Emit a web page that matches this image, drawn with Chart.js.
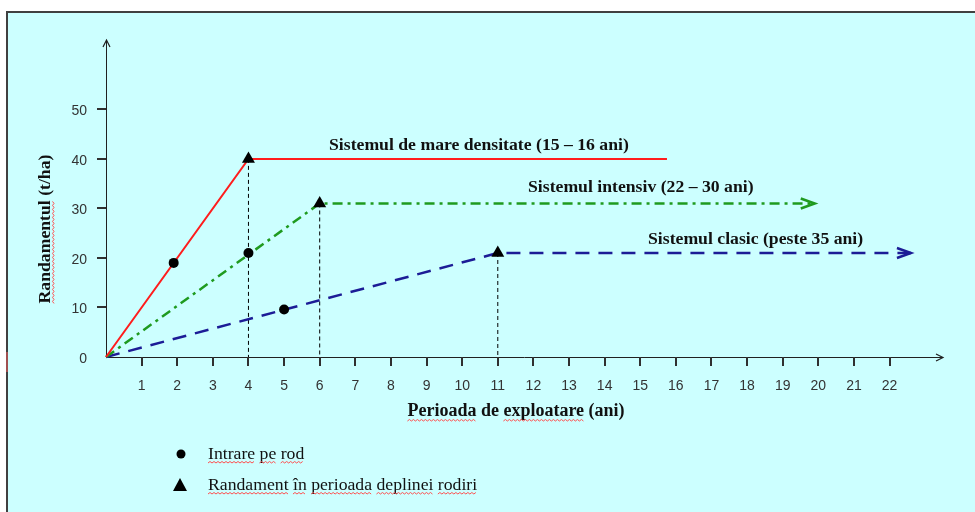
<!DOCTYPE html>
<html>
<head>
<meta charset="utf-8">
<script src="https://cdn.jsdelivr.net/npm/chart.js@4.4.1/dist/chart.umd.min.js"></script>
<style>
  body { margin: 0; background: #fff; }
  canvas { display: block; }
</style>
</head>
<body>
<canvas id="chart" width="975" height="512"></canvas>
<script>
// Tick labels
const xTicks = [1, 2, 3, 4, 5, 6, 7, 8, 9, 10, 11, 12, 13, 14, 15, 16, 17, 18, 19, 20, 21, 22];
const yTicks = [0, 10, 20, 30, 40, 50];

// Series: the three growing systems
const seriesNames = ['Sistemul de mare densitate (15 – 16 ani)', 'Sistemul intensiv (22 – 30 ani)', 'Sistemul clasic (peste 35 ani)'];
const densitateX = [0, 4, 15.75];
const densitateY = [0, 40, 40];
const intensivX = [0, 6, 19.9];
const intensivY = [0, 31, 31];
const clasicX = [0, 11, 22.6];
const clasicY = [0, 21, 21];

// Markers
const intrareX = [1.9, 4, 5];
const intrareY = [19, 21, 9.6];
const deplinX = [4, 6, 11];
const deplinY = [40, 31, 21];

const legendLabels = ['Intrare pe rod', 'Randament în perioada deplinei rodiri'];
const xTitle = 'Perioada de exploatare (ani)';
const yTitle = 'Randamentul (t/ha)';

const SERIF = '"Liberation Serif", "Times New Roman", serif';
const SANS = '"Liberation Sans", Arial, sans-serif';

function toPoints(xs, ys) {
    return xs.map((x, i) => ({ x: x, y: ys[i] }));
}

// Spell-check style wavy underline
function wavy(ctx, x1, x2, y) {
    ctx.save();
    ctx.strokeStyle = '#ff5050';
    ctx.lineWidth = 1;
    ctx.beginPath();
    let up = true;
    ctx.moveTo(x1, y);
    for (let x = x1 + 2; x <= x2; x += 2) {
        ctx.lineTo(x, up ? y - 1.5 : y);
        up = !up;
    }
    ctx.stroke();
    ctx.restore();
}

function chevron(ctx, x, y, angle, len, half, color, width) {
    ctx.save();
    ctx.translate(x, y);
    ctx.rotate(angle);
    ctx.strokeStyle = color;
    ctx.lineWidth = width;
    ctx.lineJoin = 'miter';
    ctx.beginPath();
    ctx.moveTo(-len, -half);
    ctx.lineTo(0, 0);
    ctx.lineTo(-len, half);
    ctx.stroke();
    ctx.restore();
}

const framePlugin = {
    id: 'frame',
    beforeDraw(chart) {
        const ctx = chart.ctx;
        ctx.save();
        ctx.fillStyle = '#ffffff';
        ctx.fillRect(0, 0, chart.width, chart.height);
        ctx.fillStyle = '#ccffff';
        ctx.fillRect(7, 12, chart.width - 7, chart.height - 12);
        ctx.strokeStyle = '#404040';
        ctx.lineWidth = 2;
        ctx.beginPath();
        ctx.moveTo(7, chart.height);
        ctx.lineTo(7, 12);
        ctx.lineTo(chart.width, 12);
        ctx.stroke();
        ctx.strokeStyle = '#a05050';
        ctx.beginPath();
        ctx.moveTo(7, 352);
        ctx.lineTo(7, 372);
        ctx.stroke();
        ctx.restore();
    },
    beforeDatasetsDraw(chart) {
        const ctx = chart.ctx;
        const xs = chart.scales.x;
        const ys = chart.scales.y;
        const area = chart.chartArea;
        const x0 = xs.getPixelForValue(0);
        const y0 = ys.getPixelForValue(0);
        ctx.save();
        // axes
        ctx.strokeStyle = '#202020';
        ctx.lineWidth = 1;
        ctx.beginPath();
        ctx.moveTo(x0, y0 + 0.5);
        ctx.lineTo(area.right, y0 + 0.5);
        ctx.moveTo(x0 + 0.5, y0);
        ctx.lineTo(x0 + 0.5, area.top);
        ctx.stroke();
        chevron(ctx, area.right, y0 + 0.5, 0, 7, 3.5, '#202020', 1.2);
        chevron(ctx, x0 + 0.5, area.top, -Math.PI / 2, 7, 3.5, '#202020', 1.2);
        // ticks
        ctx.strokeStyle = '#303030';
        ctx.lineWidth = 2;
        ctx.beginPath();
        xTicks.forEach(v => {
            const px = Math.round(xs.getPixelForValue(v));
            ctx.moveTo(px, y0);
            ctx.lineTo(px, y0 + 9);
        });
        yTicks.filter(v => v > 0).forEach(v => {
            const py = Math.round(ys.getPixelForValue(v));
            ctx.moveTo(x0 - 9, py);
            ctx.lineTo(x0, py);
        });
        ctx.stroke();
        // tick labels
        ctx.fillStyle = '#333';
        ctx.font = '14px ' + SANS;
        ctx.textAlign = 'center';
        ctx.textBaseline = 'middle';
        xTicks.forEach(v => {
            ctx.fillText(String(v), xs.getPixelForValue(v), 386);
        });
        ctx.textAlign = 'right';
        yTicks.forEach(v => {
            ctx.fillText(String(v), 87, ys.getPixelForValue(v) + 2);
        });
        ctx.restore();
    },
    afterDraw(chart) {
        const ctx = chart.ctx;
        const xs = chart.scales.x;
        const ys = chart.scales.y;
        ctx.save();
        // arrowheads at the end of the intensive and classic lines
        [[intensivX, intensivY, '#1f9a1f'], [clasicX, clasicY, '#1c1c96']].forEach(([sx, sy, col]) => {
            const n = sx.length - 1;
            chevron(ctx, xs.getPixelForValue(sx[n]), ys.getPixelForValue(sy[n]), 0, 14, 5, col, 2.5);
        });

        // series labels
        ctx.fillStyle = '#111';
        ctx.font = 'bold 17.7px ' + SERIF;
        ctx.textAlign = 'left';
        ctx.textBaseline = 'middle';
        ctx.fillText(seriesNames[0], 329, 145);
        ctx.fillText(seriesNames[1], 528, 187);
        ctx.fillText(seriesNames[2], 648, 239);

        // x title
        ctx.font = 'bold 18px ' + SERIF;
        ctx.textAlign = 'center';
        ctx.fillText(xTitle, 516, 411);
        const tw = ctx.measureText(xTitle).width;
        const left = 516 - tw / 2;
        const wPer = ctx.measureText('Perioada').width;
        const wDe = ctx.measureText('Perioada de ').width;
        const wExp = ctx.measureText('Perioada de exploatare').width;
        wavy(ctx, left, left + wPer, 421);
        wavy(ctx, left + wDe, left + wExp, 421);

        // y title
        ctx.save();
        ctx.translate(45, 229);
        ctx.rotate(-Math.PI / 2);
        ctx.font = 'bold 17.7px ' + SERIF;
        ctx.fillText(yTitle, 0, 0);
        const yw = ctx.measureText(yTitle).width;
        const rw = ctx.measureText('Randamentul').width;
        wavy(ctx, -yw / 2, -yw / 2 + rw, 9);
        ctx.restore();

        // legend
        ctx.fillStyle = '#000';
        ctx.beginPath();
        ctx.arc(181, 454, 4.5, 0, Math.PI * 2);
        ctx.fill();
        ctx.beginPath();
        ctx.moveTo(180, 478);
        ctx.lineTo(187, 491);
        ctx.lineTo(173, 491);
        ctx.closePath();
        ctx.fill();
        ctx.font = '17.7px ' + SERIF;
        ctx.textAlign = 'left';
        ctx.fillStyle = '#111';
        [454, 485].forEach((y, i) => {
            ctx.fillText(legendLabels[i], 208, y);
            let x = 208;
            legendLabels[i].split(' ').forEach(w => {
                const ww = ctx.measureText(w).width;
                wavy(ctx, x, x + ww, y + 9);
                x += ww + ctx.measureText(' ').width;
            });
        });
        ctx.restore();
    }
};

const ctx = document.getElementById('chart').getContext('2d');

const lineBase = { showLine: true, pointRadius: 0, fill: false, tension: 0, clip: false };

const drops = deplinX.map((x, i) => Object.assign({}, lineBase, {
    label: 'drop' + i,
    data: [{ x: x, y: deplinY[i] }, { x: x, y: 0 }],
    borderColor: '#000',
    borderWidth: 1,
    borderDash: [4, 3],
    order: 4
}));

new Chart(ctx, {
    type: 'scatter',
    data: {
        datasets: [
            {
                label: legendLabels[1],
                data: toPoints(deplinX, deplinY),
                pointStyle: 'triangle',
                pointRadius: 7.5,
                backgroundColor: '#000',
                borderColor: '#000',
                borderWidth: 0,
                showLine: false,
                clip: false,
                order: 0
            },
            {
                label: legendLabels[0],
                data: toPoints(intrareX, intrareY),
                pointStyle: 'circle',
                pointRadius: 5,
                backgroundColor: '#000',
                borderColor: '#000',
                borderWidth: 0,
                showLine: false,
                clip: false,
                order: 1
            },
            Object.assign({}, lineBase, {
                label: seriesNames[0],
                data: toPoints(densitateX, densitateY),
                borderColor: '#ff1c1c',
                borderWidth: 2,
                order: 2
            }),
            Object.assign({}, lineBase, {
                label: seriesNames[1],
                data: toPoints(intensivX, intensivY),
                borderColor: '#1f9a1f',
                borderWidth: 2.5,
                borderDash: [10, 5, 3, 5],
                order: 3
            }),
            Object.assign({}, lineBase, {
                label: seriesNames[2],
                data: toPoints(clasicX, clasicY),
                borderColor: '#1c1c96',
                borderWidth: 2.5,
                borderDash: [14, 9],
                order: 3
            }),
            ...drops
        ]
    },
    options: {
        responsive: false,
        animation: false,
        layout: { padding: { left: 106, right: 32, top: 40, bottom: 155 } },
        plugins: {
            legend: { display: false },
            tooltip: { enabled: false }
        },
        scales: {
            x: { type: 'linear', min: 0, max: 23.5, display: false },
            y: { type: 'linear', min: 0, max: 64, display: false }
        }
    },
    plugins: [framePlugin]
});
</script>
</body>
</html>
